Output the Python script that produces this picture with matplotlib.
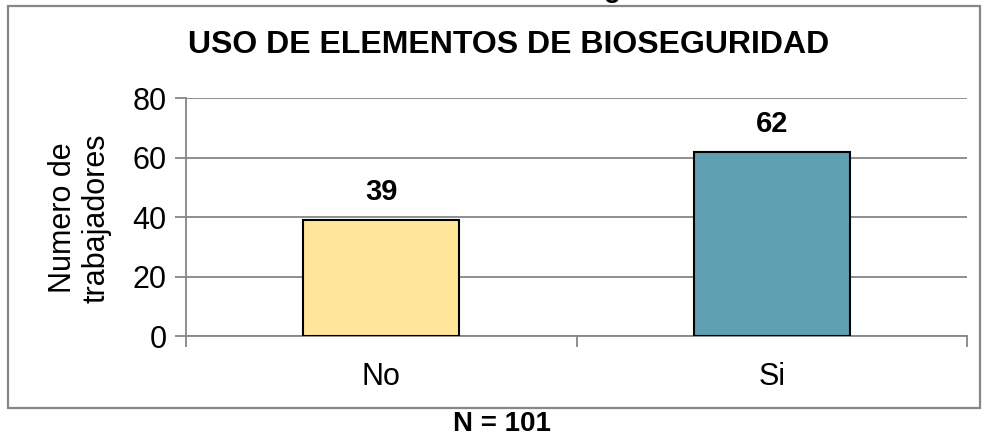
import matplotlib
matplotlib.use("Agg")
import matplotlib.pyplot as plt
from matplotlib.patches import Rectangle

plt.rcParams['font.family'] = ['Liberation Sans', 'DejaVu Sans']

categories = ["No", "Si"]
values = [39, 62]
colors = ["#FFE699", "#5FA0B3"]
yticks = [0, 20, 40, 60, 80]
title = "USO DE ELEMENTOS DE BIOSEGURIDAD"
ylabel = "Numero de\ntrabajadores"
footer = "N = 101"

W, H = 985, 440
fig = plt.figure(figsize=(W / 100, H / 100), dpi=100)
ax = fig.add_axes([186 / W, 1 - 336 / H, (967 - 186) / W, (336 - 98) / H])

grid_c = "#868686"
x = list(range(len(categories)))
ax.bar(x, values, width=0.4, color=colors, edgecolor="black", linewidth=1.5, zorder=3)
ax.set_xlim(-0.5, len(categories) - 0.5)
ax.set_ylim(0, 80)
ax.set_yticks(yticks)
ax.yaxis.grid(True, color=grid_c, linewidth=1.3, zorder=0)
ax.set_xticks(x)
ax.set_xticklabels(categories, fontsize=22)
ax.set_xticks([i - 0.5 for i in range(len(categories) + 1)], minor=True)
ax.tick_params(axis="x", which="major", length=0, pad=19)
ax.tick_params(axis="x", which="minor", length=8, width=1.3, color=grid_c, direction="out")
ax.tick_params(axis="y", labelsize=22, length=8, width=1.3, color=grid_c, pad=6)
for s in ["top", "right"]:
    ax.spines[s].set_visible(False)
for s in ["left", "bottom"]:
    ax.spines[s].set_color(grid_c)
    ax.spines[s].set_linewidth(1.3)

for xi, v in zip(x, values):
    ax.annotate(str(v), (xi, v), xytext=(0, 20), textcoords="offset points",
                ha="center", va="center", fontsize=21, fontweight="bold")

fig.text(80 / W, 1 - 218 / H, ylabel, rotation=90, ha="center", va="center",
         fontsize=22, linespacing=1.15)
fig.text(509 / W, 1 - 45 / H, title, ha="center", va="center",
         fontsize=23, fontweight="bold")
fig.text(502 / W, 1 - 424 / H, footer, ha="center", va="center",
         fontsize=20, fontweight="bold")
fig.text(612 / W, 1 + 3 / H, "g", ha="center", va="baseline",
         fontsize=20, fontweight="bold")

fig.patches.append(Rectangle((8 / W, 1 - 408 / H), (980 - 8) / W, (408 - 6) / H,
                             transform=fig.transFigure, fill=False,
                             edgecolor=grid_c, linewidth=1.6))

fig.savefig("out.png", dpi=100)
